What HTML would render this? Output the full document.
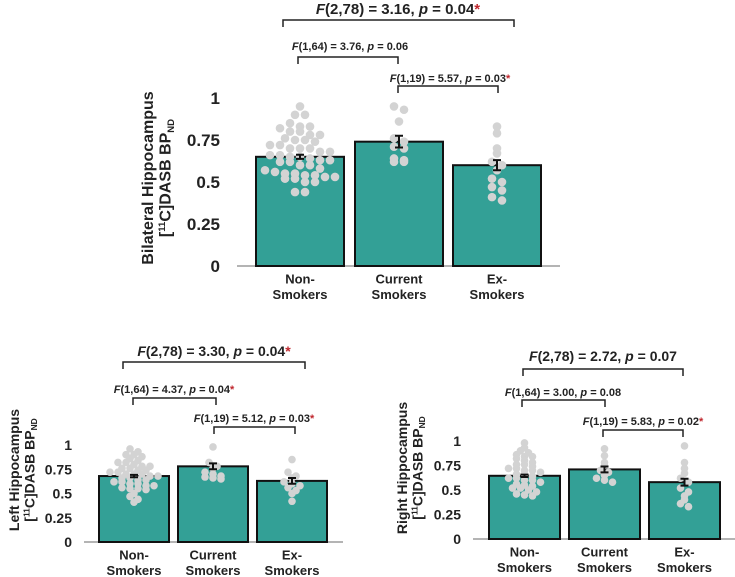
<!DOCTYPE html>
<html><head><meta charset="utf-8"><style>
body{margin:0;background:#fff;}
svg{display:block;font-family:"Liberation Sans",sans-serif;font-weight:bold;}
</style></head><body>
<svg id="fig" width="735" height="577" viewBox="0 0 735 577"></svg>
<script>
const categories=[["Non-","Smokers"],["Current","Smokers"],["Ex-","Smokers"]];
const yTicks=[0,0.25,0.5,0.75,1];
const yTickLabels=["0","0.25","0.5","0.75","1"];
const bilateralMeans=[0.65,0.74,0.60];
const bilateralSE=[0.012,0.035,0.03];
const leftMeans=[0.68,0.78,0.63];
const leftSE=[0.012,0.03,0.03];
const rightMeans=[0.645,0.71,0.58];
const rightSE=[0.012,0.03,0.035];
const bilateralNS=[0.95,0.9,0.9,0.85,0.83,0.83,0.82,0.8,0.8,0.78,0.78,0.76,0.75,0.75,0.74,0.72,0.72,0.7,0.7,0.7,0.68,0.68,0.66,0.66,0.65,0.65,0.64,0.63,0.63,0.62,0.62,0.6,0.6,0.58,0.57,0.56,0.55,0.55,0.54,0.54,0.53,0.53,0.52,0.52,0.5,0.5,0.44,0.44];
const bilateralCS=[0.95,0.93,0.86,0.76,0.74,0.71,0.7,0.64,0.63,0.62,0.62];
const bilateralES=[0.83,0.79,0.7,0.67,0.62,0.6,0.57,0.52,0.5,0.47,0.45,0.41,0.39];
const leftNS=[0.96,0.93,0.9,0.9,0.88,0.86,0.84,0.82,0.82,0.8,0.78,0.78,0.76,0.76,0.74,0.74,0.72,0.72,0.7,0.7,0.7,0.68,0.68,0.66,0.66,0.64,0.64,0.62,0.62,0.6,0.6,0.58,0.58,0.56,0.55,0.55,0.54,0.5,0.47,0.44,0.41];
const leftCS=[0.98,0.82,0.78,0.76,0.72,0.7,0.68,0.67,0.66,0.65];
const leftES=[0.85,0.72,0.68,0.66,0.62,0.6,0.58,0.56,0.53,0.5,0.42];
const rightNS=[0.98,0.93,0.9,0.88,0.86,0.84,0.84,0.82,0.8,0.78,0.76,0.76,0.74,0.72,0.72,0.7,0.7,0.68,0.66,0.66,0.64,0.62,0.62,0.6,0.6,0.58,0.56,0.55,0.54,0.52,0.52,0.5,0.48,0.46,0.45,0.44];
const rightCS=[0.92,0.85,0.78,0.75,0.7,0.68,0.65,0.62,0.6,0.58];
const rightES=[0.95,0.78,0.72,0.67,0.62,0.58,0.52,0.48,0.44,0.4,0.36,0.33];
const NS="http://www.w3.org/2000/svg";
const svg=document.getElementById('fig');
function mk(tag,attrs,parent){const e=document.createElementNS(NS,tag);for(const k in attrs)e.setAttribute(k,attrs[k]);(parent||svg).appendChild(e);return e;}
function txt(parts,x,y,size,anchor,parent){const t=mk('text',{x:x,y:y,'font-size':size,'text-anchor':anchor||'middle',fill:'#222'},parent);
 parts.forEach(p=>{const s=mk('tspan',{},t);s.textContent=p[0];if(p[1]==='i')s.setAttribute('font-style','italic');if(p[1]==='r'){s.setAttribute('fill','#c0262d');}});return t;}
function chart(c){
 const g=mk('g',{});
 
 
 const y=v=>c.y0-(c.y0-c.y1)*v;
 const ax=mk('line',{x1:c.ax0,x2:c.ax1,y1:c.y0,y2:c.y0,stroke:'#888','stroke-width':1.2},g);
 
 
 yTicks.forEach((v,i)=>{const t=txt([[yTickLabels[i]]],c.tickX,y(v)+c.tfs*0.36,c.tfs,'end',g);
  
  });
 const yt=mk('text',{transform:`translate(${c.titleX},${c.titleY}) rotate(-90)`,'font-size':c.yfs,'text-anchor':'middle',fill:'#222'},g);
 
 
 const l1=mk('tspan',{x:0,y:0},yt);l1.textContent=c.title;
 const l2=mk('tspan',{x:0,y:c.yfs*1.1},yt);l2.textContent='[';
 const sup=mk('tspan',{'font-size':c.yfs*0.6,dy:-c.yfs*0.35},yt);sup.textContent='11';
 const r=mk('tspan',{dy:c.yfs*0.35},yt);r.textContent='C]DASB BP';
 const sub=mk('tspan',{'font-size':c.yfs*0.6,dy:c.yfs*0.2},yt);sub.textContent='ND';
 c.means.forEach((m,i)=>{
  const x0=c.bx[i],w=c.bw,cx=x0+w/2;
  const b=mk('rect',{x:x0,y:y(m),width:w,height:y(0)-y(m),fill:'#33a096',stroke:'#111','stroke-width':2},g);
  
  
  const pts=c.pts[i];const bins={};
  pts.forEach(v=>{const k=Math.round(v*20);bins[k]=(bins[k]||0)+1;});
  const used={};
  pts.forEach(v=>{const k=Math.round(v*20);const n=bins[k];const j=used[k]=(used[k]||0);used[k]++;
   const off=(j-(n-1)/2)*c.dx;
   const p=mk('circle',{cx:cx+off,cy:y(v),r:c.pr,fill:'#d3d3d3'},g);
   
   });
  const se=c.se[i];
  const e=mk('path',{d:`M${cx-4},${y(m+se)}H${cx+4}M${cx},${y(m+se)}V${y(m-se)}M${cx-4},${y(m-se)}H${cx+4}`,stroke:'#111','stroke-width':2,fill:'none'},g);
  
  
  categories[i].forEach((s,k)=>{const t=txt([[s]],cx,c.y0+c.cfs*1.35+k*c.cfs*1.2,c.cfs,'middle',g);
   
   });
 });
 c.brackets.forEach(bk=>{
  const p=mk('path',{d:`M${bk.x0},${bk.y+7}V${bk.y}H${bk.x1}V${bk.y+7}`,stroke:'#222','stroke-width':1.5,fill:'none'},g);
  
  
  const parts=[['F','i'],['('+bk.df+') = '+bk.f+', '],['p','i'],[' = '+bk.p]];if(bk.sig)parts.push(['*','r']);
  const t=txt(parts,bk.tx,bk.ty,bk.fs,'middle',g);
  
  
 });
}
chart({name:'bilateral-chart',y0:266,y1:98,ax0:237,ax1:560,bx:[256,355,453],bw:88,means:bilateralMeans,se:bilateralSE,pts:[bilateralNS,bilateralCS,bilateralES],
 tickX:220,tfs:17,yfs:16,titleX:153,titleY:178,title:'Bilateral Hippocampus',cfs:13,dx:10,pr:4.3,
 brackets:[{x0:283,x1:514,y:20,tx:398,ty:14,fs:15,df:'2,78',f:'3.16',p:'0.04',sig:1},
 {x0:298,x1:398,y:57,tx:350,ty:50,fs:11,df:'1,64',f:'3.76',p:'0.06'},
 {x0:398,x1:498,y:86,tx:450,ty:82,fs:11,df:'1,19',f:'5.57',p:'0.03',sig:1}]});
chart({name:'left-chart',y0:542,y1:445,ax0:84,ax1:343,bx:[99,178,257],bw:70,means:leftMeans,se:leftSE,pts:[leftNS,leftCS,leftES],
 tickX:72,tfs:14,yfs:14,titleX:19,titleY:470,title:'Left Hippocampus',cfs:13,dx:8,pr:3.8,
 brackets:[{x0:123,x1:305,y:362,tx:214,ty:356,fs:14,df:'2,78',f:'3.30',p:'0.04',sig:1},
 {x0:133,x1:216,y:398,tx:174,ty:393,fs:11,df:'1,64',f:'4.37',p:'0.04',sig:1},
 {x0:214,x1:295,y:427,tx:254,ty:422,fs:11,df:'1,19',f:'5.12',p:'0.03',sig:1}]});
chart({name:'right-chart',y0:539,y1:441,ax0:473,ax1:735,bx:[489,569,649],bw:71,means:rightMeans,se:rightSE,pts:[rightNS,rightCS,rightES],
 tickX:461,tfs:14,yfs:14,titleX:407,titleY:468,title:'Right Hippocampus',cfs:13,dx:8,pr:3.8,
 brackets:[{x0:523,x1:683,y:369,tx:603,ty:361,fs:14,df:'2,78',f:'2.72',p:'0.07'},
 {x0:522,x1:605,y:400,tx:563,ty:396,fs:11,df:'1,64',f:'3.00',p:'0.08'},
 {x0:603,x1:683,y:430,tx:643,ty:425,fs:11,df:'1,19',f:'5.83',p:'0.02',sig:1}]});
</script>
</body></html>
